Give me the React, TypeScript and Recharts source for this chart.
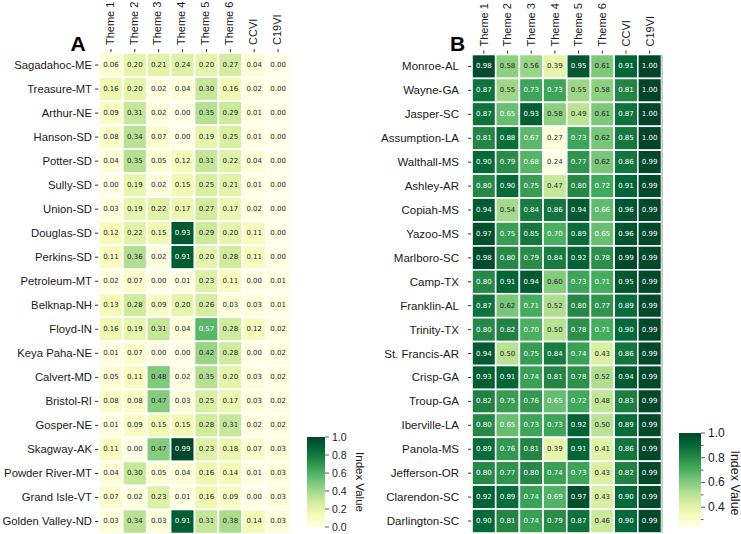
import React from 'react';
import { ScatterChart, Scatter, XAxis, YAxis, BarChart, Bar } from 'recharts';

// ---------- data ----------
const columns = ['Theme 1', 'Theme 2', 'Theme 3', 'Theme 4', 'Theme 5', 'Theme 6', 'CCVI', 'C19VI'];

const countiesA = [
  'Sagadahoc-ME', 'Treasure-MT', 'Arthur-NE', 'Hanson-SD', 'Potter-SD', 'Sully-SD', 'Union-SD',
  'Douglas-SD', 'Perkins-SD', 'Petroleum-MT', 'Belknap-NH', 'Floyd-IN', 'Keya Paha-NE', 'Calvert-MD',
  'Bristol-RI', 'Gosper-NE', 'Skagway-AK', 'Powder River-MT', 'Grand Isle-VT', 'Golden Valley-ND',
];
const aTheme1 = [0.06, 0.16, 0.09, 0.08, 0.04, 0.0, 0.03, 0.12, 0.11, 0.02, 0.13, 0.16, 0.01, 0.05, 0.08, 0.01, 0.11, 0.04, 0.07, 0.03];
const aTheme2 = [0.2, 0.2, 0.31, 0.34, 0.35, 0.19, 0.19, 0.22, 0.36, 0.07, 0.28, 0.19, 0.07, 0.11, 0.08, 0.09, 0.0, 0.3, 0.02, 0.34];
const aTheme3 = [0.21, 0.02, 0.02, 0.07, 0.05, 0.02, 0.22, 0.15, 0.02, 0.0, 0.09, 0.31, 0.0, 0.48, 0.47, 0.15, 0.47, 0.05, 0.23, 0.03];
const aTheme4 = [0.24, 0.04, 0.0, 0.0, 0.12, 0.15, 0.17, 0.93, 0.91, 0.01, 0.2, 0.04, 0.0, 0.02, 0.03, 0.15, 0.99, 0.04, 0.01, 0.91];
const aTheme5 = [0.2, 0.3, 0.35, 0.19, 0.31, 0.25, 0.27, 0.29, 0.2, 0.23, 0.26, 0.57, 0.42, 0.35, 0.25, 0.28, 0.23, 0.16, 0.16, 0.31];
const aTheme6 = [0.27, 0.16, 0.29, 0.25, 0.22, 0.21, 0.17, 0.2, 0.28, 0.11, 0.03, 0.28, 0.28, 0.2, 0.17, 0.31, 0.18, 0.14, 0.09, 0.38];
const aCCVI = [0.04, 0.02, 0.01, 0.01, 0.04, 0.01, 0.02, 0.11, 0.11, 0.0, 0.03, 0.12, 0.0, 0.03, 0.03, 0.02, 0.07, 0.01, 0.0, 0.14];
const aC19VI = [0.0, 0.0, 0.0, 0.0, 0.0, 0.0, 0.0, 0.0, 0.0, 0.01, 0.01, 0.02, 0.02, 0.02, 0.02, 0.02, 0.03, 0.03, 0.03, 0.03];

const countiesB = [
  'Monroe-AL', 'Wayne-GA', 'Jasper-SC', 'Assumption-LA', 'Walthall-MS', 'Ashley-AR', 'Copiah-MS',
  'Yazoo-MS', 'Marlboro-SC', 'Camp-TX', 'Franklin-AL', 'Trinity-TX', 'St. Francis-AR', 'Crisp-GA',
  'Troup-GA', 'Iberville-LA', 'Panola-MS', 'Jefferson-OR', 'Clarendon-SC', 'Darlington-SC',
];
const bTheme1 = [0.98, 0.87, 0.87, 0.81, 0.9, 0.8, 0.94, 0.97, 0.98, 0.8, 0.87, 0.8, 0.94, 0.93, 0.82, 0.8, 0.89, 0.8, 0.92, 0.9];
const bTheme2 = [0.58, 0.55, 0.65, 0.88, 0.79, 0.9, 0.54, 0.75, 0.8, 0.91, 0.62, 0.82, 0.5, 0.91, 0.75, 0.65, 0.76, 0.77, 0.89, 0.81];
const bTheme3 = [0.56, 0.73, 0.93, 0.67, 0.68, 0.75, 0.84, 0.85, 0.79, 0.94, 0.71, 0.7, 0.75, 0.74, 0.76, 0.73, 0.81, 0.8, 0.74, 0.74];
const bTheme4 = [0.39, 0.73, 0.58, 0.27, 0.24, 0.47, 0.86, 0.7, 0.84, 0.6, 0.52, 0.5, 0.84, 0.81, 0.65, 0.73, 0.39, 0.74, 0.69, 0.79];
const bTheme5 = [0.95, 0.55, 0.49, 0.73, 0.77, 0.8, 0.94, 0.89, 0.92, 0.73, 0.8, 0.78, 0.74, 0.78, 0.72, 0.92, 0.91, 0.73, 0.97, 0.87];
const bTheme6 = [0.61, 0.58, 0.61, 0.62, 0.62, 0.72, 0.66, 0.65, 0.78, 0.71, 0.77, 0.71, 0.43, 0.52, 0.48, 0.5, 0.41, 0.43, 0.43, 0.46];
const bCCVI = [0.91, 0.81, 0.87, 0.85, 0.86, 0.91, 0.96, 0.96, 0.99, 0.95, 0.89, 0.9, 0.86, 0.94, 0.83, 0.89, 0.86, 0.82, 0.9, 0.9];
const bC19VI = [1.0, 1.0, 1.0, 1.0, 0.99, 0.99, 0.99, 0.99, 0.99, 0.99, 0.99, 0.99, 0.99, 0.99, 0.99, 0.99, 0.99, 0.99, 0.99, 0.99];

const colorbarTicksA = [0, 0.2, 0.4, 0.6, 0.8, 1.0];
const colorbarTicksB = [0.3, 0.4, 0.5, 0.6, 0.7, 0.8, 0.9, 1.0];

// ---------- colour helpers ----------
const YLGN = ['#ffffe5', '#f7fcb9', '#d9f0a3', '#addd8e', '#78c679', '#41ab5d', '#238443', '#006837', '#004529'];
const hexRgb = (h: string) => [parseInt(h.slice(1, 3), 16), parseInt(h.slice(3, 5), 16), parseInt(h.slice(5, 7), 16)];
function ylgnRgb(t: number): number[] {
  const c = Math.max(0, Math.min(1, t)) * (YLGN.length - 1);
  const i = Math.min(YLGN.length - 2, Math.floor(c));
  const f = c - i;
  const a = hexRgb(YLGN[i]);
  const b = hexRgb(YLGN[i + 1]);
  return a.map((v, k) => Math.round(v + (b[k] - v) * f));
}
const rgbStr = (c: number[]) => `rgb(${c[0]},${c[1]},${c[2]})`;
function textColor(c: number[]) {
  const lin = c.map((v) => {
    const s = v / 255;
    return s <= 0.03928 ? s / 12.92 : Math.pow((s + 0.055) / 1.055, 2.4);
  });
  const L = 0.2126 * lin[0] + 0.7152 * lin[1] + 0.0722 * lin[2];
  return L < 0.408 ? '#ffffff' : '#262626';
}

const LABEL_FONT = 'Liberation Sans, Arial, Helvetica, sans-serif';
const CELL_FONT = 'DejaVu Sans, sans-serif';

type CellPt = { x: number; y: number; v: number };
function buildCells(cols: number[][]): CellPt[] {
  const out: CellPt[] = [];
  cols.forEach((col, ci) => col.forEach((v, ri) => out.push({ x: ci + 0.5, y: ri + 0.5, v })));
  return out;
}

type HeatProps = {
  left: number; width: number; height: number;
  yAxisWidth: number; xAxisHeight: number; rightMargin: number; bottomMargin: number;
  rows: string[]; cols: number[][]; vmin: number; vmax: number;
  rowFont: number; colFont: number; colDy: string; rowTickSize: number; rowTickMargin: number;
};

function Heatmap(p: HeatProps) {
  const data = buildCells(p.cols);
  const plotW = p.width - p.yAxisWidth - p.rightMargin;
  const plotH = p.height - p.xAxisHeight - p.bottomMargin;
  const cw = plotW / columns.length;
  const ch = plotH / p.rows.length;
  const xTicks = columns.map((_, i) => i + 0.5);
  const yTicks = p.rows.map((_, i) => i + 0.5);

  const topTick = (t: any) => (
    <text x={t.x} y={t.y} transform={`rotate(-90 ${t.x} ${t.y})`} textAnchor="start" dy={p.colDy}
      fontSize={p.colFont} fontFamily={LABEL_FONT} fill="#1a1a1a">
      {columns[Math.floor(t.payload.value)]}
    </text>
  );
  const leftTick = (t: any) => (
    <text x={t.x} y={t.y} textAnchor="end" dominantBaseline="central"
      fontSize={p.rowFont} fontFamily={LABEL_FONT} fill="#1a1a1a">
      {p.rows[Math.floor(t.payload.value)]}
    </text>
  );
  const shape = (s: any) => {
    const { cx, cy, payload } = s;
    const rgb = ylgnRgb((payload.v - p.vmin) / (p.vmax - p.vmin));
    return (
      <g>
        <rect x={cx - cw / 2} y={cy - ch / 2} width={cw} height={ch} fill={rgbStr(rgb)} stroke="#ffffff" strokeWidth={1.6} />
        <text x={cx} y={cy} textAnchor="middle" dominantBaseline="central" fontSize={7}
          fontFamily={CELL_FONT} fill={textColor(rgb)}>
          {payload.v.toFixed(2)}
        </text>
      </g>
    );
  };

  return (
    <div style={{ position: 'absolute', left: p.left, top: 0 }}>
      <ScatterChart width={p.width} height={p.height}
        margin={{ top: 0, left: 0, right: p.rightMargin, bottom: p.bottomMargin }}>
        <XAxis type="number" dataKey="x" orientation="top" domain={[0, columns.length]} ticks={xTicks}
          interval={0} height={p.xAxisHeight} axisLine={false} tickLine={{ stroke: '#333' }}
          tickSize={4} tickMargin={4} tick={topTick} />
        <YAxis type="number" dataKey="y" reversed domain={[0, p.rows.length]} ticks={yTicks}
          interval={0} width={p.yAxisWidth} axisLine={false} tickLine={{ stroke: '#333' }}
          tickSize={p.rowTickSize} tickMargin={p.rowTickMargin} tick={leftTick} />
        <Scatter data={data} shape={shape} isAnimationActive={false} />
      </ScatterChart>
    </div>
  );
}

type CbProps = {
  id: string; left: number; top: number; width: number; height: number;
  barWidth: number; plotTop: number; plotH: number; domain: [number, number];
  ticks: number[]; fontSize: number; minor: boolean;
};
function Colorbar(p: CbProps) {
  const tickSize = 4;
  const tickMargin = 3;
  const axisW = p.width - 7 - p.barWidth;
  const tick = (t: any) => {
    const v = t.payload.value as number;
    const major = !p.minor || Math.round(v * 10) % 2 === 0;
    const x0 = t.x - tickMargin - tickSize;
    return (
      <g>
        <line x1={x0} x2={x0 + (major ? tickSize : 2.5)} y1={t.y} y2={t.y} stroke="#333" strokeWidth={0.8} />
        {major && (
          <text x={t.x} y={t.y} textAnchor="start" dominantBaseline="central" fontSize={p.fontSize}
            fontFamily={LABEL_FONT} fill="#1a1a1a">{v.toFixed(1)}</text>
        )}
      </g>
    );
  };
  return (
    <div style={{ position: 'absolute', left: p.left, top: p.top }}>
      <BarChart width={p.width} height={p.height} data={[{ k: 'cb', range: p.domain }]}
        margin={{ top: p.plotTop, left: 7, right: 0, bottom: p.height - p.plotTop - p.plotH }}
        barCategoryGap={0}>
        <defs>
          <linearGradient id={p.id} x1="0" y1="1" x2="0" y2="0">
            {YLGN.map((c, i) => <stop key={i} offset={i / (YLGN.length - 1)} stopColor={c} />)}
          </linearGradient>
        </defs>
        <XAxis dataKey="k" type="category" hide />
        <YAxis type="number" orientation="right" domain={p.domain} ticks={p.ticks} interval={0}
          allowDataOverflow width={axisW} axisLine={false} tickLine={false}
          tickSize={tickSize} tickMargin={tickMargin} tick={tick} />
        <Bar dataKey="range" fill={`url(#${p.id})`} isAnimationActive={false} />
      </BarChart>
    </div>
  );
}

export default function App() {
  const colsA = [aTheme1, aTheme2, aTheme3, aTheme4, aTheme5, aTheme6, aCCVI, aC19VI];
  const colsB = [bTheme1, bTheme2, bTheme3, bTheme4, bTheme5, bTheme6, bCCVI, bC19VI];
  const bMin = Math.min(...colsB.flat());
  const bMax = Math.max(...colsB.flat());
  return (
    <div style={{ position: 'absolute', left: 0, top: 0, width: 741, height: 534, overflow: 'hidden', background: '#fff' }}>
      <Heatmap left={0} width={380} height={534} yAxisWidth={99} xAxisHeight={53} rightMargin={90}
        bottomMargin={0.5} rows={countiesA} cols={colsA} vmin={0} vmax={1}
        rowFont={11.3} colFont={11} colDy="0.25em" rowTickSize={4} rowTickMargin={3} />
      <Heatmap left={370} width={300} height={534} yAxisWidth={102} xAxisHeight={54.5} rightMargin={8.5}
        bottomMargin={1} rows={countiesB} cols={colsB} vmin={bMin} vmax={bMax}
        rowFont={11.5} colFont={11} colDy="0.35em" rowTickSize={4} rowTickMargin={9} />
      <Colorbar id="cbA" left={300} top={427} width={60} height={110} barWidth={18} plotTop={10} plotH={90}
        domain={[0, 1]} ticks={colorbarTicksA} fontSize={10.5} minor={false} />
      <Colorbar id="cbB" left={672} top={423} width={69} height={115} barWidth={22} plotTop={10} plotH={94}
        domain={[bMin, bMax]} ticks={colorbarTicksB} fontSize={12} minor={true} />
      <svg width={741} height={534} style={{ position: 'absolute', left: 0, top: 0, pointerEvents: 'none' }}>
        <text x={78} y={51} textAnchor="middle" fontSize={21} fontWeight="bold" fontFamily={LABEL_FONT} fill="#000">A</text>
        <text x={457.5} y={51} textAnchor="middle" fontSize={21} fontWeight="bold" fontFamily={LABEL_FONT} fill="#000">B</text>
        <line x1={662} x2={662} y1={54.5} y2={533} stroke="#8a8a8a" strokeWidth={0.8} />
        <text x={360} y={482} transform="rotate(90 360 482)" textAnchor="middle" dominantBaseline="central"
          fontSize={11.5} fontFamily={LABEL_FONT} fill="#1a1a1a">Index Value</text>
        <text x={735} y={483} transform="rotate(90 735 483)" textAnchor="middle" dominantBaseline="central"
          fontSize={12.5} fontFamily={LABEL_FONT} fill="#1a1a1a">Index Value</text>
      </svg>
    </div>
  );
}
